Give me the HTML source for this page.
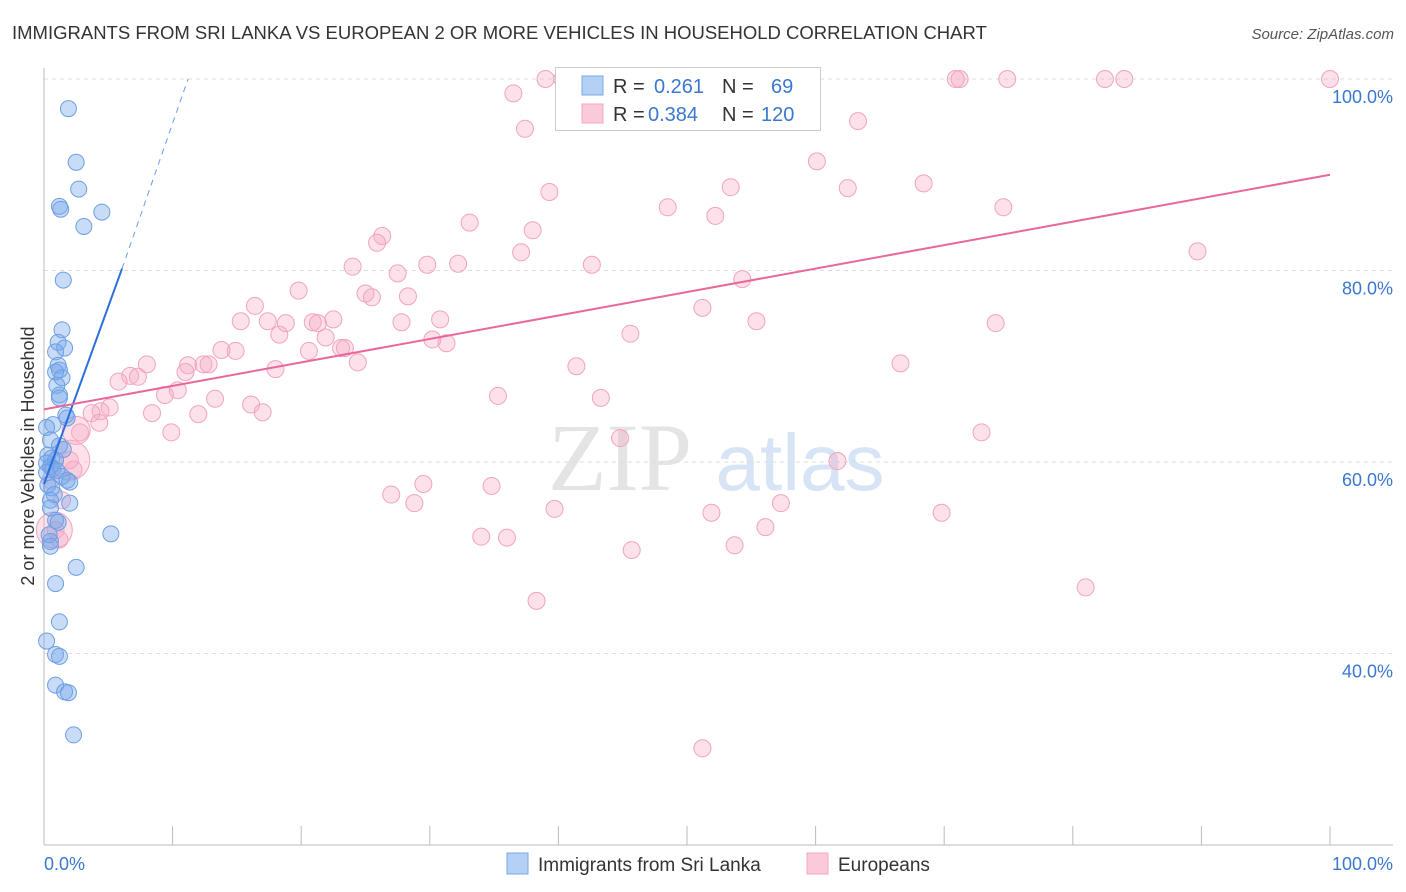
<!DOCTYPE html>
<html><head><meta charset="utf-8"><style>
body{margin:0;background:#fff;font-family:"Liberation Sans",sans-serif;}
svg{display:block}
</style></head><body>
<svg id="chart" width="1406" height="892">
<text x="12" y="39" font-size="18.5" fill="#333">IMMIGRANTS FROM SRI LANKA VS EUROPEAN 2 OR MORE VEHICLES IN HOUSEHOLD CORRELATION CHART</text>
<text x="1394" y="39" font-size="15" fill="#555" font-style="italic" text-anchor="end">Source: ZipAtlas.com</text>
<text x="620" y="490" font-size="96" fill="#e4e4e4" font-family="Liberation Serif,serif" text-anchor="middle">ZIP</text>
<text x="800" y="490" font-size="80" fill="#d6e4f5" text-anchor="middle">atlas</text>
<g id="grid"></g><g id="axes"></g><g id="pts"></g><g id="lines"></g>
<text x="34" y="456" font-size="18" fill="#333" text-anchor="middle" transform="rotate(-90 34 456)">2 or more Vehicles in Household</text>
<g>
<rect x="555.5" y="67.5" width="265" height="63" fill="#fff" stroke="#ccc"/>
<rect x="582" y="76" width="21" height="19" fill="#b5d0f5" stroke="#7aa8e8"/>
<rect x="582" y="104" width="21" height="19" fill="#fbcad8" stroke="#f3a8be"/>
<text x="613" y="93" font-size="20" fill="#333">R =</text><text x="654" y="93" font-size="20" fill="#3a78d0">0.261</text>
<text x="722" y="93" font-size="20" fill="#333">N =</text><text x="771" y="93" font-size="20" fill="#3a78d0">69</text>
<text x="613" y="121" font-size="20" fill="#333">R =</text><text x="648" y="121" font-size="20" fill="#3a78d0">0.384</text>
<text x="722" y="121" font-size="20" fill="#333">N =</text><text x="761" y="121" font-size="20" fill="#3a78d0">120</text>
</g>
<g>
<rect x="507" y="853" width="21" height="21" fill="#b5d0f5" stroke="#7aa8e8"/>
<text x="538" y="871" font-size="19" fill="#333">Immigrants from Sri Lanka</text>
<rect x="807" y="853" width="21" height="21" fill="#fbcad8" stroke="#f3a8be"/>
<text x="838" y="871" font-size="19" fill="#333">Europeans</text>
</g>
</svg>
<script>
const yTicks=[40,60,80,100];
const yTickLabels=["40.0%","60.0%","80.0%","100.0%"];
const xTickLabels=["0.0%","100.0%"];
const blueX=[1.9,2.5,2.7,1.2,1.3,4.5,3.1,1.5,1.4,1.1,1.6,0.9,1.1,1.2,0.9,1.4,1.0,1.2,1.2,1.7,1.8,0.7,0.2,0.5,1.2,1.5,0.3,0.6,0.9,0.2,0.5,0.7,1.0,0.2,1.4,1.8,2.0,0.3,0.6,0.8,2.0,0.5,0.5,0.9,1.1,0.4,0.5,0.5,5.2,2.5,0.9,1.2,0.2,0.9,1.2,0.9,1.6,1.9,2.3];
const blueY=[96.9,91.3,88.5,86.7,86.4,86.1,84.6,79.0,73.8,72.5,71.9,71.5,70.1,69.6,69.4,68.8,68.0,67.0,66.7,64.9,64.6,63.9,63.6,62.3,61.7,61.3,60.7,60.4,60.2,59.9,59.5,59.3,59.1,58.9,58.5,58.1,57.9,57.6,57.3,56.6,55.7,56.0,55.2,53.9,53.7,52.4,51.7,51.2,52.5,49.0,47.3,43.3,41.3,39.9,39.7,36.7,36.0,35.9,31.5];
const pinkX=[39.0,40.3,71.2,70.9,74.9,82.5,84.0,100,36.5,58.4,50.0,63.3,37.4,60.1,53.4,62.5,39.3,68.4,48.5,74.6,52.2,33.1,38.0,26.3,25.9,37.1,89.7,24.0,29.8,32.2,27.5,42.6,54.3,19.8,25.0,25.5,28.3,16.4,15.3,17.4,27.8,18.8,20.9,21.3,22.5,30.8,51.2,55.4,74.0,18.3,21.9,30.2,31.3,45.6,23.1,23.4,14.9,13.8,20.6,12.4,11.2,12.8,8.0,18.0,11.0,24.4,41.4,66.6,6.7,7.3,5.8,10.4,9.4,35.3,13.3,16.1,43.3,5.1,4.4,12.0,17.0,8.4,3.7,4.3,9.9,2.8,44.8,72.9,2.0,61.7,2.3,27.0,29.5,34.8,28.8,57.3,39.7,51.9,69.8,56.1,34.0,36.0,45.7,53.7,81.0,38.3,51.2,0.9,1.2,0.5,1.4];
const pinkY=[100,100,100,100,100,100,100,100,98.5,96.2,96.1,95.6,94.8,91.4,88.7,88.6,88.2,89.1,86.6,86.6,85.7,85.0,84.2,83.6,82.9,81.9,82.0,80.4,80.6,80.7,79.7,80.6,79.1,77.9,77.6,77.2,77.3,76.3,74.7,74.7,74.6,74.5,74.6,74.5,74.9,74.9,76.1,74.7,74.5,73.3,73.0,72.8,72.4,73.4,71.9,71.9,71.6,71.7,71.6,70.2,70.1,70.2,70.2,69.7,69.4,70.4,70.0,70.3,69.0,68.9,68.4,67.5,67.0,66.9,66.6,66.0,66.7,65.7,65.3,65.0,65.2,65.1,65.1,64.1,63.1,63.1,62.5,63.1,60.2,60.1,59.2,56.6,57.7,57.5,55.7,55.7,55.1,54.7,54.7,53.2,52.2,52.1,50.8,51.3,46.9,45.5,30.1,52.9,51.9,58.1,56.0];
const bigPinkX=[2.0,2.5,0.8];
const bigPinkY=[60.2,63.3,52.9];
const bigPinkR=[20,14,18];
const blueFit=[[0,57.7],[6.07,80.2]];
const blueExt=[6.07,80.2,11.2,100];
const pinkFit=[[0,65.5],[100,90.0]];

const X=v=>44+v*12.86, Y=v=>79+(100-v)*9.575;
const NS="http://www.w3.org/2000/svg";
function mk(tag,attrs,parent){const e=document.createElementNS(NS,tag);for(const k in attrs)e.setAttribute(k,attrs[k]);document.getElementById(parent).appendChild(e);return e;}
yTicks.forEach((t,i)=>{
 const g=mk('line',{x1:44,x2:1393,y1:Y(t),y2:Y(t),stroke:'#ddd','stroke-dasharray':'4 4'},'grid');
 
 
 const l=mk('text',{x:1393,y:Y(t)+24,'font-size':18,fill:'#3a78d0','text-anchor':'end'},'axes');
 l.textContent=yTickLabels[i];
 
 
});
const ax=mk('line',{x1:44,x2:1393,y1:845,y2:845,stroke:'#bbb'},'axes');


const ay=mk('line',{x1:44,x2:44,y1:68,y2:845,stroke:'#bbb'},'axes');


for(let i=0;i<=10;i++){const t=mk('line',{x1:X(i*10),x2:X(i*10),y1:826,y2:845,stroke:'#bbb'},'axes');
 
 }
[[0,'start',44],[100,'end',1393]].forEach((d,i)=>{const l=mk('text',{x:d[2],y:870,'font-size':18,fill:'#3a78d0','text-anchor':d[1]},'axes');l.textContent=xTickLabels[i];
 
 });
pinkX.forEach((v,i)=>{const c=mk('circle',{cx:X(v),cy:Y(pinkY[i]),r:8.5,fill:'rgba(247,170,196,0.35)',stroke:'#f2a4bd','stroke-width':1},'pts');
 
 });
bigPinkX.forEach((v,i)=>{const c=mk('circle',{cx:X(v),cy:Y(bigPinkY[i]),r:bigPinkR[i],fill:'rgba(247,170,196,0.35)',stroke:'#f2a4bd'},'pts');
 
 });
blueX.forEach((v,i)=>{const c=mk('circle',{cx:X(v),cy:Y(blueY[i]),r:8,fill:'rgba(120,168,235,0.4)',stroke:'#6d9fe3','stroke-width':1},'pts');
 
 });
const bl=mk('line',{x1:X(blueFit[0][0]),y1:Y(blueFit[0][1]),x2:X(blueFit[1][0]),y2:Y(blueFit[1][1]),stroke:'#2a6fdb','stroke-width':2},'lines');


const be=mk('line',{x1:X(blueExt[0]),y1:Y(blueExt[1]),x2:X(blueExt[2]),y2:Y(blueExt[3]),stroke:'#6a9ee6','stroke-width':1,'stroke-dasharray':'6 5'},'lines');


const pl=mk('line',{x1:X(pinkFit[0][0]),y1:Y(pinkFit[0][1]),x2:X(pinkFit[1][0]),y2:Y(pinkFit[1][1]),stroke:'#e8689a','stroke-width':2},'lines');


</script>
</body></html>
